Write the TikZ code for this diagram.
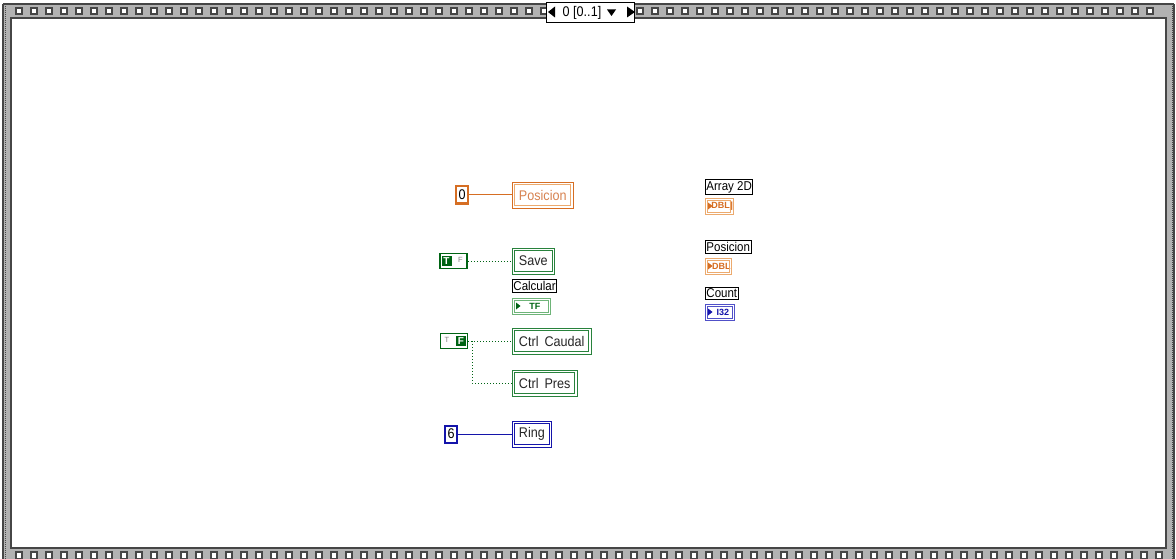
\documentclass[tikz,border=0pt]{standalone}
\usepackage{fontspec}
\setmainfont{Liberation Sans}
\newfontfamily\lvf[FakeStretch=0.9]{Liberation Sans}
\definecolor{lvorange}{RGB}{214,110,35}
\definecolor{lvlorange}{RGB}{236,170,110}
\definecolor{lvotext}{RGB}{215,130,80}
\definecolor{lvgreen}{RGB}{0,100,20}
\definecolor{lvmgreen}{RGB}{40,130,60}
\definecolor{lvlgreen}{RGB}{110,180,120}
\definecolor{lvblue}{RGB}{20,20,170}
\definecolor{lvlblue}{RGB}{80,80,200}
\definecolor{stripgray}{RGB}{178,178,178}
\definecolor{stripdark}{RGB}{70,70,70}
\newcommand\lvinner[3]{\draw[#2, line width=#3] ([shift={(2.6,2.6)}]#1.north west) rectangle ([shift={(-2.6,-2.6)}]#1.south east);}
\tikzset{
  lvfont/.style={font=\lvf\fontsize{14}{15}\selectfont},
  localbox/.style={rectangle, inner xsep=6.5pt, inner ysep=0pt, minimum height=26pt,
    line width=0.9pt, fill=white, lvfont, anchor=west},
  cst/.style={rectangle, inner sep=0pt, minimum width=12pt, minimum height=17pt,
    line width=2pt, fill=white, text=black, lvfont},
  boolc/.style={rectangle, inner sep=0pt, minimum width=27pt, minimum height=15pt,
    line width=1.8pt, draw=lvgreen, fill=white},
  boolfill/.style={rectangle, inner sep=0pt, minimum width=10pt, minimum height=10pt,
    fill=lvgreen, text=white, font=\bfseries\fontsize{10}{10}\selectfont},
  boolfaint/.style={inner sep=0pt, text=gray, font=\fontsize{7.5}{7.5}\selectfont},
  lbl/.style={rectangle, draw=black, line width=0.9pt, fill=white, inner xsep=1pt,
    inner ysep=1.5pt, font=\lvf\fontsize{12.8}{14}\selectfont, anchor=west},
  ind/.style={rectangle, inner sep=0pt, minimum height=16pt, line width=0.8pt,
    fill=white, anchor=west, font=\bfseries\fontsize{9}{9}\selectfont},
  bwire/.style={draw=lvgreen, dotted, line width=1pt},
  owire/.style={draw=lvorange, line width=1pt},
  blwire/.style={draw=lvblue, line width=1pt},
  sq/.style={fill=white, draw=stripdark, line width=1.2pt}
}
\begin{document}
\begin{tikzpicture}[x=1pt,y=-1pt]
\useasboundingbox (0,0) rectangle (1176,559);
\fill[white] (0,0) rectangle (1176,559);
% ---------- frame (film strip) ----------
\fill[stripgray] (3,4) rectangle (1174,18);
\fill[stripgray] (3,548) rectangle (1174,559);
\fill[stripgray] (3,4) rectangle (11,559);
\fill[stripgray] (1166,4) rectangle (1174,559);
\draw[stripdark, line width=1.2pt] (3,4) -- (1174,4);
\draw[stripdark, line width=1pt, dash pattern=on 1pt off 1pt] (5,6) -- (5,559);
\draw[stripdark, line width=1pt, dash pattern=on 1pt off 1pt] (1172,6) -- (1172,559);
\draw[stripdark, line width=1.2pt] (3,4) -- (3,559);
\draw[stripdark, line width=1.2pt] (1174,4) -- (1174,559);
\fill[white] (11,18) rectangle (1166,548);
\draw[stripdark, line width=1.4pt] (11,18) rectangle (1166,548);
\foreach \x in {16,31,...,541} {\draw[sq] (\x,8) rectangle ++(6,6);}
\foreach \x in {637,652,...,1160} {\draw[sq] (\x,8) rectangle ++(6,6);}
\foreach \x in {16,31,...,1160} {\draw[sq] (\x,552) rectangle ++(6,7);}
% ---------- case selector ----------
\node[rectangle, draw=black, line width=0.9pt, fill=white, minimum width=88pt,
  minimum height=20pt, inner sep=0pt, anchor=north west] (sel) at (546,2) {};
\node[font=\lvf\fontsize{14}{15}\selectfont, anchor=center] (seltxt) at (582,12.5) {0 [0..1]};
\fill[black] (548,12) -- (555,6.5) -- (555,17.5) -- cycle;
\fill[black] (607,9.5) -- (616,9.5) -- (611.5,16) -- cycle;
\fill[black] (635,12) -- (627,6.5) -- (627,17.5) -- cycle;
% ---------- left column ----------
\node[cst, draw=lvorange] (k0) at (462,195) {0};
\node[localbox, draw=lvorange, text=lvotext] (pos) at (512,195) {Posicion};
\lvinner{pos}{lvlorange}{0.9pt}
\draw[owire] (k0) -- (pos);

\node[boolc] (kT) at (453.5,261) {};
\node[boolfill] (kTa) at (446.5,261) {T};
\node[boolfaint] (kTb) at (460.5,260) {F};
\node[localbox, draw=lvmgreen, text=black!85] (save) at (512,261) {Save};
\lvinner{save}{lvmgreen}{0.9pt}
\draw[bwire] (kT) -- (save);

\node[lbl] (calc) at (512,286) {Calcular};
\node[ind, draw=lvlgreen, text=lvgreen, minimum width=38pt] (tf) at (512,306) {\hspace{7pt}TF};
\lvinner{tf}{lvlgreen}{0.6pt}
\fill[lvgreen] (516,302.5) -- (520.5,306) -- (516,309.5) -- cycle;

\node[boolc] (kF) at (454,341) {};
\node[boolfaint] (kFa) at (447,340) {T};
\node[boolfill] (kFb) at (461,341) {F};
\node[localbox, draw=lvmgreen, text=black!85] (caudal) at (512,341) {Ctrl\hspace{6pt}Caudal};
\lvinner{caudal}{lvmgreen}{0.9pt}
\node[localbox, draw=lvmgreen, text=black!85] (pres) at (512,383) {Ctrl\hspace{6pt}Pres};
\lvinner{pres}{lvmgreen}{0.9pt}
\coordinate (jn) at (472,341);
\draw[bwire] (kF) -- (caudal);
\draw[bwire] (jn) |- (pres);

\node[cst, draw=lvblue] (k6) at (451,434) {6};
\node[localbox, draw=lvblue, text=black!85] (ring) at (512,434) {Ring};
\lvinner{ring}{lvblue}{0.9pt}
\draw[blwire] (k6) -- (ring);
% ---------- right column ----------
\node[lbl] (arr) at (705,187) {Array 2D};
\node[ind, draw=lvlorange, text=lvorange, minimum width=26pt] (dbl1) at (705,206) {\hspace{6pt}DBL]};
\lvinner{dbl1}{lvlorange}{0.6pt}
\fill[lvorange] (708,202.5) -- (712.5,206) -- (708,209.5) -- cycle;

\node[lbl] (posi) at (705,247) {Posicion};
\node[ind, draw=lvlorange, text=lvorange, minimum width=26pt] (dbl2) at (705,266) {\hspace{6pt}DBL};
\lvinner{dbl2}{lvlorange}{0.6pt}
\fill[lvorange] (708,262.5) -- (712.5,266) -- (708,269.5) -- cycle;

\node[lbl] (cnt) at (705,293.5) {Count};
\node[ind, draw=lvlblue, text=lvblue, minimum width=29pt] (i32) at (705,312) {\hspace{6pt}I32};
\lvinner{i32}{lvlblue}{0.6pt}
\fill[lvblue] (708,308.5) -- (712.5,312) -- (708,315.5) -- cycle;
\end{tikzpicture}
\end{document}
